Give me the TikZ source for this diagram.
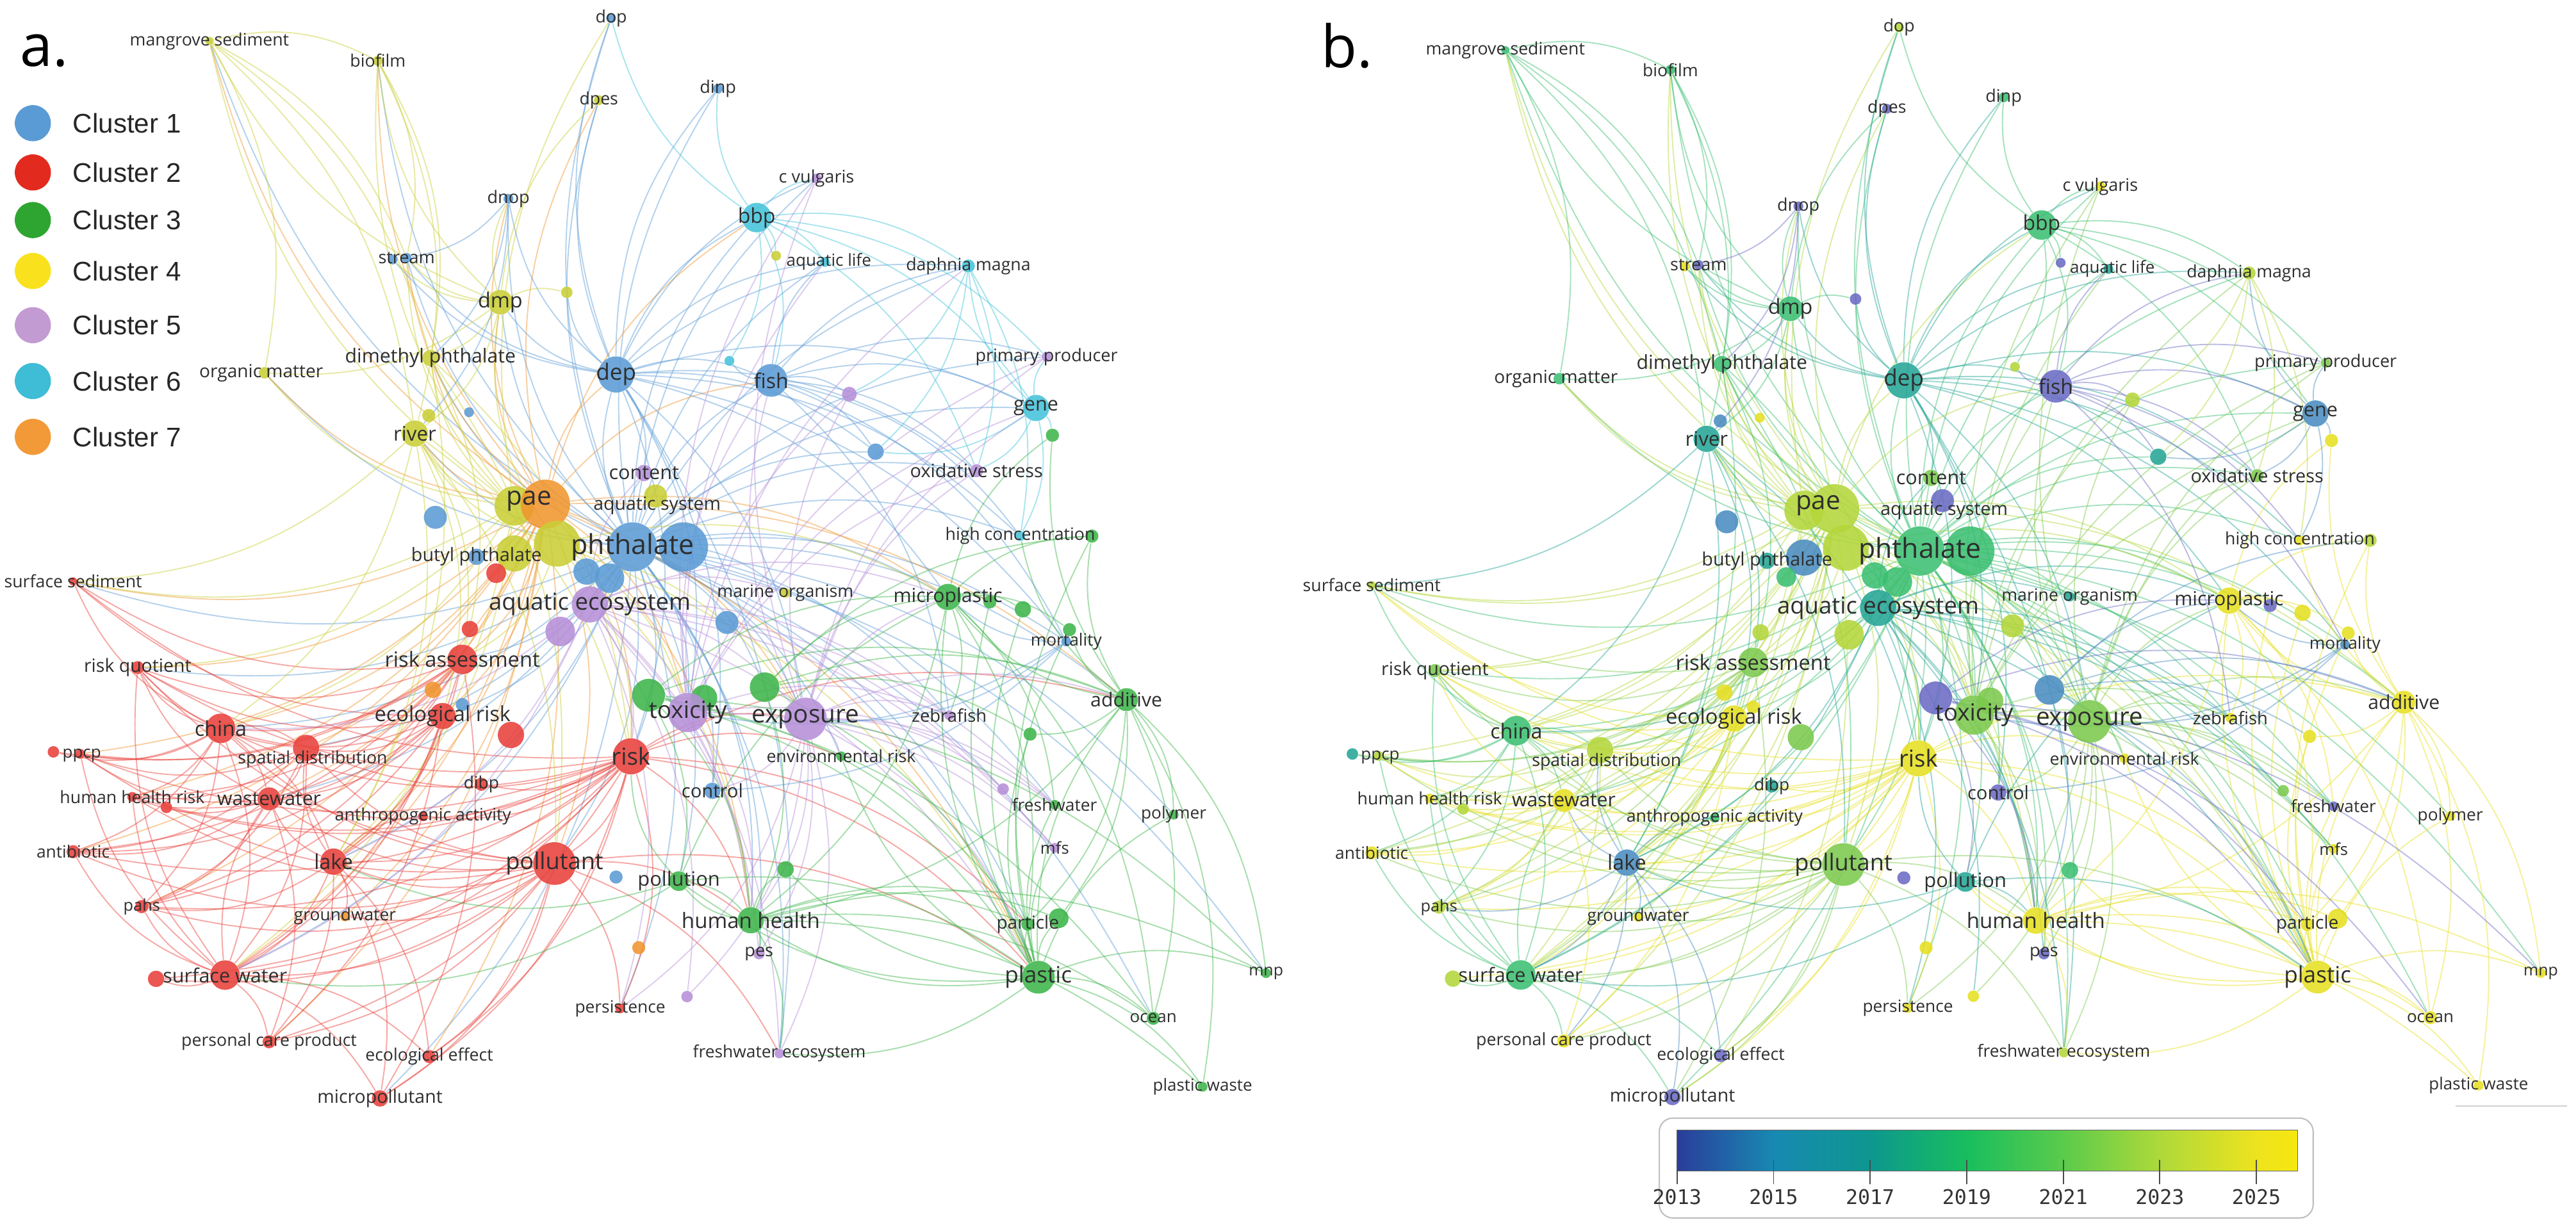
\documentclass[tikz,border=0pt]{standalone}
\usepackage{fontspec}
\usetikzlibrary{positioning}
\newfontfamily\labfont{Open Sans}
\newfontfamily\legfont{Liberation Sans}
\newfontfamily\yearfont{DejaVu Sans Mono}

\pgfdeclarelayer{edges}
\pgfsetlayers{edges,main}

% cluster colours (panel a)
\definecolor{c1}{HTML}{5B9BD5}
\definecolor{c2}{HTML}{E8403A}
\definecolor{c3}{HTML}{3DB54A}
\definecolor{c4}{HTML}{C9CE36}
\definecolor{c5}{HTML}{B68FD8}
\definecolor{c6}{HTML}{45C3DA}
\definecolor{c7}{HTML}{F0952E}
\definecolor{L1}{HTML}{5B9BD5}
\definecolor{L2}{HTML}{E32A1E}
\definecolor{L3}{HTML}{2FA531}
\definecolor{L4}{HTML}{F9E11E}
\definecolor{L5}{HTML}{C39BD3}
\definecolor{L6}{HTML}{3FBCD6}
\definecolor{L7}{HTML}{F29A38}
% year colours (panel b)
\definecolor{yP}{HTML}{6B6BC4}
\definecolor{yB}{HTML}{4A8CC0}
\definecolor{yT}{HTML}{25A596}
\definecolor{yG}{HTML}{3BBF72}
\definecolor{yL}{HTML}{7CC94E}
\definecolor{yYG}{HTML}{B4D63A}
\definecolor{yY}{HTML}{E6DF22}
\definecolor{g13}{HTML}{2A3D9A}
\definecolor{g15}{HTML}{1889B2}
\definecolor{g17}{HTML}{0D978F}
\definecolor{g19}{HTML}{18BE5E}
\definecolor{g21}{HTML}{5BCB4B}
\definecolor{g23}{HTML}{AED93A}
\definecolor{g25}{HTML}{EDE31E}
\definecolor{g26}{HTML}{F6E70F}

\pgfdeclarehorizontalshading{yearbar}{100bp}{color(0bp)=(g13); color(25bp)=(g13);
  color(32.78bp)=(g15); color(40.56bp)=(g17); color(48.35bp)=(g19); color(56.13bp)=(g21);
  color(63.91bp)=(g23); color(71.69bp)=(g25); color(75bp)=(g26); color(100bp)=(g26)}

\def\pxu{0.025645cm}

\tikzset{
  kwdot/.style={circle, inner sep=0pt, draw=none, fill opacity=0.88},
  kwlabel/.style={inner sep=0pt, text=black!82, font=\labfont},
  kwedge/.style={line width=0.55pt, draw opacity=0.45},
  legdot/.style={circle, inner sep=0pt, minimum size=22*\pxu},
  legtext/.style={inner sep=0pt, font=\legfont\fontsize{12}{14}\selectfont, text=black!85},
  yearlab/.style={inner sep=0pt, font=\yearfont\fontsize{9}{10}\selectfont, text=black!80},
  panellab/.style={inner sep=0pt, font=\labfont\fontsize{26}{30}\selectfont}
}

\newcommand\kwnode[6]{%
  \edef\kwcol{\pickcol{#5}{#6}}%
  \expandafter\xdef\csname kwc#1\endcsname{\kwcol}%
  \node[kwdot, minimum size=#4*2*\pxu, fill=\kwcol] (\kwpfx#1) at (#2,#3) {};}
\newcommand\kwlab[4][]{\node[kwlabel, #1] (\kwpfx#2-t) at (\kwpfx#2) {\fontsize{#3}{#3}\selectfont #4};}
\newcommand\kwlink[2]{\edef\kwcol{\csname kwc#1\endcsname}%
  \draw[kwedge, draw=\kwcol] (\kwpfx#1) to[bend left=20] (\kwpfx#2);}
\newcommand\kwstar[2]{\foreach \kwt in {#2} {\kwlink{#1}{\kwt}}}

\newcommand\netnodes{%
  \kwnode{mang}{127.5}{25}{2.5}{c4}{yG}
  \kwnode{biof}{230}{37}{3}{c4}{yG}
  \kwnode{dop}{372}{11}{3}{c1}{yYG}
  \kwnode{dpes}{364.5}{61}{3}{c4}{yP}
  \kwnode{dinp}{437}{54}{3}{c1}{yG}
  \kwnode{cvul}{497}{108.7}{3}{c5}{yY}
  \kwnode{dnop}{309.5}{121}{3}{c1}{yP}
  \kwnode{bbp}{460.6}{132.5}{9}{c6}{yG}
  \kwnode{strm}{247.5}{157}{3}{c1}{yP}
  \kwnode{ua}{239}{158}{3}{c1}{yY}
  \kwnode{ub}{472.4}{155.7}{3}{c4}{yP}
  \kwnode{aqlife}{502}{159.5}{3}{c6}{yT}
  \kwnode{daph}{589.4}{162}{4}{c6}{yYG}
  \kwnode{uc}{345}{178}{3.5}{c4}{yP}
  \kwnode{dmp}{304.5}{184}{7.5}{c4}{yG}
  \kwnode{prim}{637}{217.3}{3}{c5}{yL}
  \kwnode{dmph}{262}{218}{5}{c4}{yG}
  \kwnode{ud}{444}{219.7}{3}{c6}{yYG}
  \kwnode{orgm}{161}{227}{3.5}{c4}{yG}
  \kwnode{dep}{375}{228}{11}{c1}{yT}
  \kwnode{fish}{469.4}{231.6}{10}{c1}{yP}
  \kwnode{ue}{517}{240}{4.5}{c5}{yYG}
  \kwnode{gene}{630.6}{248.4}{8}{c6}{yB}
  \kwnode{uf}{285.5}{251}{3}{c1}{yY}
  \kwnode{ug}{261}{253}{4}{c4}{yB}
  \kwnode{river}{252.5}{264}{8}{c4}{yT}
  \kwnode{uh}{640.6}{265}{4}{c3}{yY}
  \kwnode{ui}{533}{275}{5}{c1}{yT}
  \kwnode{oxid}{594.4}{286.6}{4}{c5}{yL}
  \kwnode{content}{392}{288}{5}{c5}{yL}
  \kwnode{aqsys}{399}{302}{7}{c4}{yP}
  \kwnode{paey}{313}{308}{12}{c4}{yYG}
  \kwnode{pae}{332}{307}{15}{c7}{yYG}
  \kwnode{uj}{265}{315}{7}{c1}{yB}
  \kwnode{hiconc}{621}{326.4}{3}{c6}{yY}
  \kwnode{uk}{664.6}{326.4}{4}{c3}{yYG}
  \kwnode{ul}{339}{331}{14}{c4}{yYG}
  \kwnode{um}{313}{337}{11}{c4}{yB}
  \kwnode{butyl}{290}{339}{5}{c1}{yT}
  \kwnode{un}{302}{349}{6}{c2}{yG}
  \kwnode{phth}{385}{333}{15}{c1}{yG}
  \kwnode{uo}{416}{333}{15}{c1}{yG}
  \kwnode{up}{357}{348}{8}{c1}{yG}
  \kwnode{uq}{371}{352}{9}{c1}{yG}
  \kwnode{surfsed}{44.5}{354}{2.5}{c2}{yYG}
  \kwnode{marine}{478}{361}{3}{c4}{yT}
  \kwnode{microp}{577}{363.5}{8}{c3}{yY}
  \kwnode{ur}{602.5}{366.5}{4}{c3}{yP}
  \kwnode{us}{622.6}{371}{5}{c3}{yY}
  \kwnode{aqeco}{359}{368}{11}{c5}{yT}
  \kwnode{ut}{442.5}{379}{7}{c1}{yYG}
  \kwnode{uu}{286}{383}{5}{c2}{yYG}
  \kwnode{uv}{341}{384.5}{9}{c5}{yYG}
  \kwnode{mortg}{651}{383.4}{4}{c3}{yY}
  \kwnode{mort}{649}{390.6}{3}{c1}{yB}
  \kwnode{riskas}{281.4}{401.5}{9}{c2}{yL}
  \kwnode{riskq}{83.8}{406.5}{4}{c2}{yL}
  \kwnode{uw}{263.5}{420}{5}{c7}{yY}
  \kwnode{ux}{394.8}{423.3}{10}{c3}{yP}
  \kwnode{uy}{428.6}{425}{8}{c3}{yL}
  \kwnode{uz}{465.4}{418.4}{9}{c3}{yB}
  \kwnode{addit}{685.6}{426}{7}{c3}{yY}
  \kwnode{va}{281.4}{429}{4}{c1}{yY}
  \kwnode{tox}{418.7}{433.8}{12}{c5}{yL}
  \kwnode{zebra}{577.8}{435.5}{3}{c5}{yY}
  \kwnode{ecorisk}{269.4}{436}{8}{c2}{yY}
  \kwnode{expo}{490.3}{437.8}{13}{c5}{yL}
  \kwnode{china}{134.3}{443.5}{9}{c2}{yG}
  \kwnode{vb}{627}{447}{4}{c3}{yY}
  \kwnode{vc}{311}{447.5}{8}{c2}{yL}
  \kwnode{spat}{186.3}{455.4}{8}{c2}{yYG}
  \kwnode{vd}{32.5}{457.8}{3.5}{c2}{yT}
  \kwnode{ppcp}{48.8}{459}{3}{c2}{yYG}
  \kwnode{envrisk}{512}{460.5}{3}{c3}{yY}
  \kwnode{risk}{384}{460.5}{11}{c2}{yY}
  \kwnode{dibp}{293}{477.5}{4}{c2}{yT}
  \kwnode{ve}{610.6}{480.4}{3.5}{c5}{yL}
  \kwnode{control}{433.6}{481.5}{5}{c1}{yP}
  \kwnode{hhr}{80.5}{485.2}{3}{c2}{yY}
  \kwnode{waste}{163.8}{486.4}{7}{c2}{yY}
  \kwnode{freshw}{641.9}{490}{3}{c3}{yP}
  \kwnode{vf}{101.3}{491.6}{3.5}{c2}{yYG}
  \kwnode{polym}{714.4}{496}{3}{c3}{yY}
  \kwnode{anthro}{257.5}{497}{3}{c2}{yG}
  \kwnode{mfs}{642}{516.2}{3}{c5}{yY}
  \kwnode{antib}{44.5}{518.6}{4}{c2}{yY}
  \kwnode{lake}{203}{524.6}{8}{c2}{yB}
  \kwnode{pollut}{337.5}{525.8}{13}{c2}{yL}
  \kwnode{vg}{478.2}{529.3}{5}{c3}{yG}
  \kwnode{vh}{375}{534}{4}{c1}{yP}
  \kwnode{pollu}{413.2}{536.5}{6}{c3}{yT}
  \kwnode{pahs}{86.3}{552}{4}{c2}{yYG}
  \kwnode{gw}{210}{558}{3}{c7}{yY}
  \kwnode{vi}{644.4}{559.1}{6}{c3}{yY}
  \kwnode{hh}{457}{560.3}{8}{c3}{yY}
  \kwnode{partic}{625.6}{562.7}{4}{c3}{yY}
  \kwnode{vj}{388.8}{577}{4}{c7}{yY}
  \kwnode{pes}{462}{580.6}{3.5}{c5}{yP}
  \kwnode{mnp}{770.6}{592.5}{3}{c3}{yY}
  \kwnode{surfw}{137}{593.7}{9}{c2}{yG}
  \kwnode{plastic}{632}{595}{10}{c3}{yY}
  \kwnode{vk}{95}{596}{5}{c2}{yYG}
  \kwnode{vl}{418.2}{606.8}{3.5}{c5}{yY}
  \kwnode{persist}{377.5}{614}{3}{c2}{yY}
  \kwnode{ocean}{702}{620}{4}{c3}{yY}
  \kwnode{pcp}{163.8}{634.3}{4}{c2}{yY}
  \kwnode{fweco}{474.4}{641.4}{3}{c5}{yYG}
  \kwnode{ecoeff}{261.3}{643.3}{4}{c2}{yP}
  \kwnode{pwaste}{732}{661.7}{3}{c3}{yY}
  \kwnode{micropol}{231.3}{668.8}{5}{c2}{yP}
}

\newcommand\netedges{%
  \kwstar{phth}{mang,biof,dop,dpes,dnop,strm,dmp,dmph,orgm,river,dep,fish,bbp,dinp,content,marine,microp,hiconc,gene,oxid,daph,addit,riskas,ecorisk,risk,tox,expo,envrisk,control,pollut,pollu,hh,plastic,partic,china,lake,waste,surfw,surfsed,riskq,spat,zebra,mort,ui,uz,pes,freshw,persist,fweco,micropol,aqlife,cvul,prim,mnp,ocean,polym}
  \kwstar{pae}{mang,biof,dpes,dmp,dmph,orgm,river,dep,strm,dnop,riskas,ecorisk,risk,china,lake,surfw,waste,spat,pollut,hh,expo,tox,microp,plastic,addit,fish,bbp,surfsed,riskq,antib,gw,pcp,ecoeff,hhr,ppcp,pahs}
  \kwstar{paey}{mang,biof,orgm,dmph,river,strm,surfsed,riskq,china,lake,surfw,dop}
  \kwstar{ul}{risk,tox,expo,microp,plastic,hh,riskas,dmp,river}
  \kwstar{dep}{dop,dpes,dnop,dinp,bbp,dmp,strm,fish,tox,expo,risk,gene,daph,aqlife,content,cvul,ui,control,microp,hiconc,oxid,mort,fweco,ua,uc}
  \kwstar{risk}{riskq,china,spat,hhr,waste,antib,lake,pahs,surfw,pcp,ecoeff,micropol,pollut,persist,hh,expo,plastic,envrisk,addit,partic,ppcp,dibp,anthro,gw,surfsed,vk,vf}
  \kwstar{pollut}{surfw,lake,china,waste,pahs,micropol,ecoeff,pcp,antib,hhr,ppcp,riskq,persist,hh,plastic,gw,spat,fweco,vk}
  \kwstar{riskas}{china,surfsed,riskq,spat,waste,lake,surfw,ppcp,hhr,antib,pahs,micropol,vd}
  \kwstar{ecorisk}{china,spat,lake,surfw,riskq,waste,pcp,antib,pahs,surfsed,vf}
  \kwstar{china}{riskq,ppcp,lake,surfw,waste,spat,hhr,antib,pahs,surfsed,vd}
  \kwstar{lake}{surfw,waste,spat,gw,micropol,ecoeff,pahs,pcp,anthro}
  \kwstar{surfw}{pahs,antib,ppcp,hhr,pcp,micropol,ecoeff,vk,waste,riskq}
  \kwstar{spat}{riskq,ppcp,hhr,antib,waste,pahs,surfw}
  \kwstar{waste}{ppcp,hhr,antib,pahs,riskq,pcp}
  \kwstar{river}{riskas,ecorisk,china,lake,risk,pollut,surfsed}
  \kwstar{dmph}{risk,pollut,riskas,lake}
  \kwstar{expo}{zebra,freshw,mfs,ve,oxid,gene,prim,hh,plastic,fweco,pes,envrisk,control,ue,fish,cvul,microp,addit,vl,persist}
  \kwstar{tox}{zebra,oxid,daph,prim,gene,fish,hh,control,mfs,cvul,aqlife,ue,freshw}
  \kwstar{aqeco}{risk,tox,expo,zebra,freshw,fweco,pes,mfs,ve,content,marine,persist,vl,china,lake,surfw,plastic,hh,microp}
  \kwstar{plastic}{partic,vi,mnp,ocean,pwaste,polym,addit,microp,hh,pollu,vg,freshw,mortg,ur,us,vb,fweco,uk,envrisk,mfs}
  \kwstar{addit}{mnp,ocean,pwaste,polym,partic,microp,hh,mortg,uk,uh,vb,hiconc,vi}
  \kwstar{microp}{mortg,us,ur,zebra,freshw,uk,hh,uh,partic,ocean}
  \kwstar{hh}{partic,pes,vg,ocean,pwaste,pollu,fweco,mnp,vi}
  \kwstar{pollu}{plastic,hh,microp,risk,lake,surfw}
  \kwstar{ux}{hh,plastic,microp,addit,partic,pollu,ocean,mnp}
  \kwstar{uz}{plastic,addit,microp,hh,vb,uk}
  \kwstar{bbp}{dinp,aqlife,daph,fish,cvul,gene,ud,ub,dop,oxid,prim}
  \kwstar{fish}{daph,gene,oxid,ue,ui,mort,hiconc,zebra,aqlife,ud,prim}
  \kwstar{gene}{oxid,uh,daph,ui,hiconc,prim}
  \kwstar{daph}{ui,ue,oxid,hiconc}
  \kwstar{dmp}{mang,biof,strm,dnop,dpes,dmph,river,orgm,uc,ua}
  \kwstar{mang}{biof,dmph,river,orgm,strm}
  \kwstar{biof}{river,dmph,strm}
  \kwstar{dnop}{strm,dmph,river}
  \kwstar{mort}{microp,tox,expo,control}
}

\newcommand\netlabels{%
  \kwlab{mang}{7.6}{mangrove sediment}
  \kwlab{biof}{7.6}{biofilm}
  \kwlab{dop}{7.6}{dop}
  \kwlab{dpes}{7.6}{dpes}
  \kwlab{dinp}{7.7}{dinp}
  \kwlab{cvul}{7.7}{c vulgaris}
  \kwlab{dnop}{7.7}{dnop}
  \kwlab{bbp}{9.1}{bbp}
  \kwlab{strm}{7.7}{stream}
  \kwlab[shift={(2.5,0)}]{aqlife}{7.4}{aquatic life}
  \kwlab{daph}{7.6}{daphnia magna}
  \kwlab{dmp}{9.2}{dmp}
  \kwlab{prim}{7.7}{primary producer}
  \kwlab{dmph}{8.6}{dimethyl phthalate}
  \kwlab[shift={(-2,0)}]{orgm}{8}{organic matter}
  \kwlab{dep}{10}{dep}
  \kwlab{fish}{9.1}{fish}
  \kwlab{gene}{8.7}{gene}
  \kwlab{river}{8.9}{river}
  \kwlab{oxid}{8.2}{oxidative stress}
  \kwlab{content}{8.7}{content}
  \kwlab[shift={(1,6)}]{aqsys}{8.1}{aquatic system}
  \kwlab[shift={(-10,-2)}]{pae}{11.5}{pae}
  \kwlab{hiconc}{7.6}{high concentration}
  \kwlab{butyl}{8.2}{butyl phthalate}
  \kwlab{phth}{12.2}{phthalate}
  \kwlab{surfsed}{7.6}{surface sediment}
  \kwlab{marine}{7.6}{marine organism}
  \kwlab{microp}{8.6}{microplastic}
  \kwlab{aqeco}{10.4}{aquatic ecosystem}
  \kwlab{mort}{7.5}{mortality}
  \kwlab{riskas}{9.3}{risk assessment}
  \kwlab{riskq}{8.1}{risk quotient}
  \kwlab{addit}{8.6}{additive}
  \kwlab{tox}{10.5}{toxicity}
  \kwlab{zebra}{7.8}{zebrafish}
  \kwlab{ecorisk}{9.3}{ecological risk}
  \kwlab{expo}{11}{exposure}
  \kwlab{china}{9.2}{china}
  \kwlab[shift={(4,7)}]{spat}{7.6}{spatial distribution}
  \kwlab[shift={(1,1)}]{ppcp}{7.4}{ppcp}
  \kwlab{envrisk}{7.6}{environmental risk}
  \kwlab{risk}{10.4}{risk}
  \kwlab{dibp}{7.5}{dibp}
  \kwlab{control}{8.3}{control}
  \kwlab{hhr}{7.6}{human health risk}
  \kwlab{waste}{8.6}{wastewater}
  \kwlab{freshw}{7.5}{freshwater}
  \kwlab{polym}{7.5}{polymer}
  \kwlab{anthro}{7.6}{anthropogenic activity}
  \kwlab{mfs}{7.3}{mfs}
  \kwlab{antib}{7.5}{antibiotic}
  \kwlab{lake}{9.2}{lake}
  \kwlab{pollut}{10.3}{pollutant}
  \kwlab{pollu}{8.8}{pollution}
  \kwlab{pahs}{7.2}{pahs}
  \kwlab{gw}{7.5}{groundwater}
  \kwlab{hh}{9.4}{human health}
  \kwlab{partic}{8}{particle}
  \kwlab{pes}{7.7}{pes}
  \kwlab{mnp}{7.1}{mnp}
  \kwlab{surfw}{8.7}{surface water}
  \kwlab{plastic}{10}{plastic}
  \kwlab{persist}{7.5}{persistence}
  \kwlab{ocean}{7.4}{ocean}
  \kwlab{pcp}{7.6}{personal care product}
  \kwlab{fweco}{7.5}{freshwater ecosystem}
  \kwlab{ecoeff}{7.6}{ecological effect}
  \kwlab{pwaste}{7.4}{plastic waste}
  \kwlab{micropol}{8.1}{micropollutant}
}

\newcommand\drawnet[2]{%
  \def\kwpfx{#1}%
  \ifnum#2=1 \def\pickcol##1##2{##1}\else \def\pickcol##1##2{##2}\fi
  \netnodes
  \begin{pgfonlayer}{edges}\netedges\end{pgfonlayer}
  \netlabels}

\begin{document}
\begin{tikzpicture}[x=0.025645cm, y=-0.025645cm]
  \useasboundingbox (0,0) rectangle (1568,748);

  % a. clusters
  \node[panellab] (pa) at (27,31) {a.};
  \foreach \i/\yy in {1/75,2/105,3/134,4/165,5/198,6/232,7/266} {
    \node[legdot, fill=L\i] (leg\i) at (20,\yy) {};
    \node[legtext, right=0.33cm of leg\i] (legt\i) {Cluster \i};
  }
  \drawnet{a}{1}

  % b. average year
  \node[panellab] (pb) at (820,28) {b.};
  \begin{scope}[shift={(791.35,5.85)}, xscale=0.98, yscale=0.99]
    \drawnet{b}{2}
  \end{scope}
  \draw[gray!35, line width=0.6pt] (1494.5,673.6) -- (1562.7,673.6);

  \draw[gray!50, line width=0.6pt, rounded corners=6pt] (1010,680.8) rectangle (1408,741.6);
  \shade[shading=yearbar] (1020.8,688) rectangle (1398.5,713);
  \draw[black!60, line width=0.4pt] (1020.8,688) rectangle (1398.5,713);
  \foreach \yr [count=\i from 0] in {2013,2015,2017,2019,2021,2023,2025} {
    \draw[black!70, line width=0.5pt] (1020.8+58.77*\i,706) -- (1020.8+58.77*\i,721);
    \node[yearlab] (yr\yr) at (1020.8+58.77*\i,729) {\yr};
  }
\end{tikzpicture}
\end{document}
